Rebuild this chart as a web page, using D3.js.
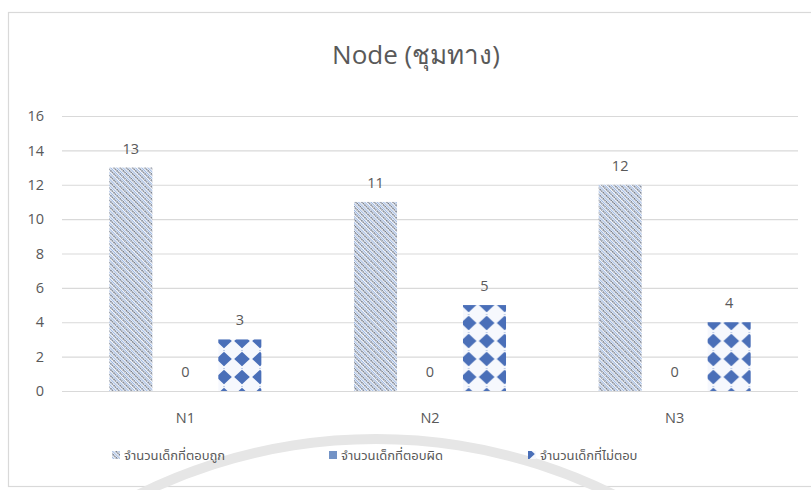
<!DOCTYPE html>
<html><head><meta charset="utf-8">
<script src="https://cdn.jsdelivr.net/npm/d3@7/dist/d3.min.js"></script>
<style>body{margin:0;background:#fff} svg{display:block}</style>
</head><body><svg id="chart" width="811" height="490"></svg>
<script>
// ---- data ----
const categories = ["N1", "N2", "N3"];
const seriesNames = ["จำนวนเด็กที่ตอบถูก", "จำนวนเด็กที่ตอบผิด", "จำนวนเด็กที่ไม่ตอบ"];
const correctValues = [13, 11, 12];
const wrongValues = [0, 0, 0];
const noAnswerValues = [3, 5, 4];
const yTickValues = [0, 2, 4, 6, 8, 10, 12, 14, 16];
const chartTitle = "Node (ชุมทาง)";

const seriesValues = [correctValues, wrongValues, noAnswerValues];
const rows = categories.map((c, i) => ({cat: c, vals: seriesNames.map((s, j) => ({s, j, v: seriesValues[j][i]}))}));

const svg = d3.select("#chart");
const textColor = "#595959";
const latinFont = "'Open Sans','Noto Sans','Liberation Sans',sans-serif";
const thaiFont = "'Noto Sans Thai','Noto Sans','Tahoma',sans-serif";

// patterns
const defs = svg.append("defs");
const hp = 4.4;
const hatch = defs.append("pattern").attr("id", "hatch")
  .attr("patternUnits", "userSpaceOnUse").attr("width", hp).attr("height", hp)
  .attr("patternTransform", "rotate(-45)");
hatch.append("rect").attr("width", hp).attr("height", hp).attr("fill", "#fbfcfe");
hatch.append("line").attr("x1", 1).attr("x2", 1).attr("y1", 0).attr("y2", hp)
  .attr("stroke", "#4a566b").attr("stroke-width", 1.2).attr("stroke-dasharray", "1.5 0.7");
hatch.append("line").attr("x1", 3).attr("x2", 3).attr("y1", 0).attr("y2", hp)
  .attr("stroke", "#9fb9e2").attr("stroke-width", 1.1);

const dia = defs.append("pattern").attr("id", "diamond")
  .attr("patternUnits", "userSpaceOnUse").attr("x", 8).attr("y", 8)
  .attr("width", 18).attr("height", 18);
dia.append("rect").attr("width", 18).attr("height", 18).attr("fill", "#f6f8fd");
dia.append("line").attr("x1", 9).attr("x2", 9).attr("y1", 0).attr("y2", 18)
  .attr("stroke", "#8ea8d8").attr("stroke-width", 1).attr("stroke-dasharray", "1 2");
dia.append("path").attr("d", "M9,1.8 L16.8,9 L9,16.2 L1.2,9 Z").attr("fill", "#4a6fb8");

const fills = ["url(#hatch)", "#7393c6", "url(#diamond)"];

// frame
svg.append("rect").attr("x", 8.5).attr("y", 12.5).attr("width", 830).attr("height", 474)
  .attr("fill", "#fff").attr("stroke", "#d9d9d9").attr("stroke-width", 1.2);

// faint watermark arc
svg.append("path").attr("d", d3.arc()({innerRadius: 530, outerRadius: 540, startAngle: -0.62, endAngle: 0.62}))
  .attr("transform", "translate(376,974)").attr("fill", "#e6e6e6");

// scales
const plotL = 63, plotR = 797, plotT = 116, plotB = 391;
const y = d3.scaleLinear().domain([0, 16]).range([plotB, plotT]);
const x0 = d3.scaleBand().domain(categories).range([plotL, plotR]).padding(0);
const x1 = d3.scaleBand().domain(seriesNames).range([0, x0.bandwidth()]).paddingInner(0.21).paddingOuter(0.85);

// grid + y axis
const yAxis = svg.append("g").attr("transform", `translate(${plotL - 1},0)`)
  .call(d3.axisLeft(y).tickValues(yTickValues).tickSize(-(plotR - plotL + 2)).tickPadding(18));
yAxis.select(".domain").remove();
yAxis.selectAll("line").attr("stroke", "#d9d9d9").attr("stroke-width", 1.2);
yAxis.selectAll("text").attr("fill", textColor).attr("font-family", latinFont).attr("font-size", 14.5);

// x axis
const xAxis = svg.append("g").attr("transform", `translate(0,${plotB})`)
  .call(d3.axisBottom(x0).tickSize(0).tickPadding(22));
xAxis.select(".domain").remove();
xAxis.selectAll("text").attr("fill", textColor).attr("font-family", latinFont).attr("font-size", 14.5);

// bars
const groups = svg.append("g").selectAll("g").data(rows).join("g")
  .attr("transform", d => `translate(${x0(d.cat)},0)`);
groups.selectAll("rect").data(d => d.vals).join("rect")
  .attr("x", d => x1(d.s)).attr("width", x1.bandwidth())
  .attr("y", d => y(d.v)).attr("height", d => y(0) - y(d.v))
  .attr("fill", d => fills[d.j]);
groups.selectAll("text").data(d => d.vals).join("text")
  .attr("x", d => x1(d.s) + x1.bandwidth() / 2).attr("y", d => y(d.v) - 14)
  .attr("text-anchor", "middle").attr("fill", textColor)
  .attr("font-family", latinFont).attr("font-size", 14.5).text(d => d.v);

// title
svg.append("text").attr("x", 416).attr("y", 64).attr("text-anchor", "middle")
  .attr("fill", textColor).attr("font-family", latinFont)
  .attr("font-size", 26).text(chartTitle);

// legend
const legendX = [112, 329, 528];
const lg = svg.append("g").selectAll("g").data(seriesNames).join("g")
  .attr("transform", (d, i) => `translate(${legendX[i]},455)`);
lg.append("rect").attr("x", 0).attr("y", -4).attr("width", 8).attr("height", 8)
  .attr("fill", (d, i) => fills[i]);
lg.append("text").attr("x", 12).attr("y", 5).attr("fill", textColor)
  .attr("font-family", thaiFont).attr("font-size", 13).text(d => d);
</script></body></html>
